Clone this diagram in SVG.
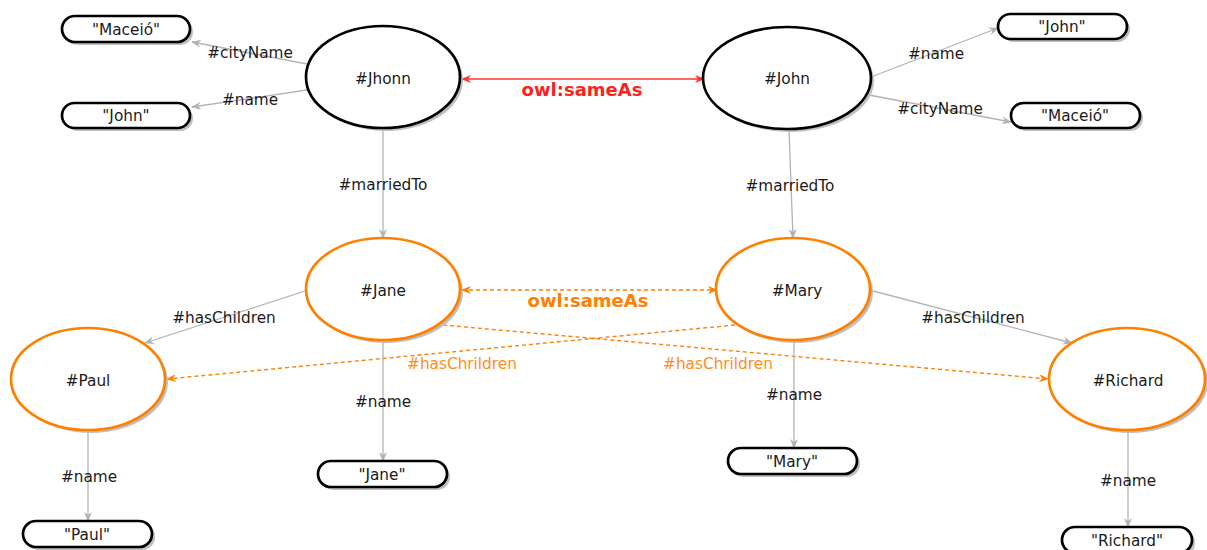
<svg xmlns="http://www.w3.org/2000/svg" width="1207" height="550" viewBox="0 0 1207 550">
  <style>
    text { font-family: "DejaVu Sans", Verdana, sans-serif; font-size: 15.3px; fill: #1a1a1a; text-anchor: middle; dominant-baseline: central; }
    .res { fill: #ffffff; stroke: #000000; stroke-width: 2.7; }
    .res-o { fill: #ffffff; stroke: #ff8000; stroke-width: 2.7; }
    .lit { fill: #ffffff; stroke: #000000; stroke-width: 2.7; }
    .shadow { fill: #bfbfbf; stroke: none; }
    .edge { fill: none; stroke: #b3b3b3; stroke-width: 1.3; }
    .same { fill: none; stroke: #ff3333; stroke-width: 1.4; }
    .dash { fill: none; stroke: #ff8000; stroke-width: 1.4; stroke-dasharray: 4 3; }
    .lbl-red { fill: #ff1f1f; font-weight: bold; font-size: 18px; }
    .lbl-org { fill: #ff8000; font-weight: bold; font-size: 18px; }
    .lbl-org-n { fill: #ff8c1a; }
  </style>
  <defs>
    <marker id="ag" markerWidth="10" markerHeight="10" refX="9" refY="5" orient="auto" markerUnits="userSpaceOnUse">
      <path d="M0,1 L10,5 L0,9 L3,5 z" fill="#b3b3b3"/>
    </marker>
    <marker id="ar" markerWidth="10" markerHeight="10" refX="9" refY="5" orient="auto-start-reverse" markerUnits="userSpaceOnUse">
      <path d="M0,1 L10,5 L0,9 L3,5 z" fill="#ff3333"/>
    </marker>
    <marker id="ao" markerWidth="10" markerHeight="10" refX="9" refY="5" orient="auto-start-reverse" markerUnits="userSpaceOnUse">
      <path d="M0,1 L10,5 L0,9 L3,5 z" fill="#ff8000"/>
    </marker>
  </defs>

  <!-- connectors -->
  <g id="connectors">
    <line class="edge" x1="307" y1="64" x2="192" y2="42" marker-end="url(#ag)"/>
    <text x="250" y="53">#cityName</text>
    <line class="edge" x1="307" y1="90" x2="192" y2="107" marker-end="url(#ag)"/>
    <text x="250" y="100">#name</text>

    <line class="edge" x1="871" y1="77" x2="998" y2="28" marker-end="url(#ag)"/>
    <text x="936" y="54">#name</text>
    <line class="edge" x1="869" y1="95" x2="1011" y2="122" marker-end="url(#ag)"/>
    <text x="940" y="109">#cityName</text>

    <line class="same" x1="462" y1="79" x2="704" y2="79" marker-start="url(#ar)" marker-end="url(#ar)"/>
    <text class="lbl-red" x="582" y="89">owl:sameAs</text>

    <line class="edge" x1="383" y1="129" x2="383" y2="238" marker-end="url(#ag)"/>
    <text x="383" y="185">#marriedTo</text>
    <line class="edge" x1="789" y1="130" x2="793" y2="238" marker-end="url(#ag)"/>
    <text x="790" y="186">#marriedTo</text>

    <line class="dash" x1="462" y1="290" x2="717" y2="290" marker-start="url(#ao)" marker-end="url(#ao)"/>
    <text class="lbl-org" x="588" y="300">owl:sameAs</text>

    <line class="edge" x1="305" y1="291" x2="145" y2="343" marker-end="url(#ag)"/>
    <text x="224" y="318">#hasChildren</text>
    <line class="edge" x1="873" y1="291" x2="1072" y2="343" marker-end="url(#ag)"/>
    <text x="973" y="318">#hasChildren</text>

    <line class="dash" x1="443" y1="325" x2="1048" y2="379" marker-end="url(#ao)"/>
    <line class="dash" x1="735" y1="325" x2="167" y2="379" marker-end="url(#ao)"/>
    <text class="lbl-org-n" x="462" y="364">#hasChrildren</text>
    <text class="lbl-org-n" x="718" y="364">#hasChrildren</text>

    <line class="edge" x1="383" y1="341" x2="383" y2="461" marker-end="url(#ag)"/>
    <text x="383" y="402">#name</text>
    <line class="edge" x1="794" y1="341" x2="794" y2="448" marker-end="url(#ag)"/>
    <text x="794" y="395">#name</text>
    <line class="edge" x1="88" y1="431" x2="88" y2="521" marker-end="url(#ag)"/>
    <text x="89" y="477">#name</text>
    <line class="edge" x1="1128" y1="431" x2="1128" y2="527" marker-end="url(#ag)"/>
    <text x="1128" y="481">#name</text>
  </g>

  <!-- resource nodes -->
  <g id="jhonn">
    <ellipse class="shadow" cx="386" cy="80" rx="77" ry="51"/>
    <ellipse class="res" cx="383" cy="77" rx="77" ry="51"/>
    <text x="383" y="79">#Jhonn</text>
  </g>
  <g id="john">
    <ellipse class="shadow" cx="790" cy="81" rx="84" ry="51"/>
    <ellipse class="res" cx="787" cy="78" rx="84" ry="51"/>
    <text x="787" y="79">#John</text>
  </g>
  <g id="jane">
    <ellipse class="shadow" cx="386" cy="292" rx="77" ry="51"/>
    <ellipse class="res-o" cx="383" cy="289" rx="77" ry="51"/>
    <text x="383" y="291">#Jane</text>
  </g>
  <g id="mary">
    <ellipse class="shadow" cx="796" cy="292" rx="77" ry="51"/>
    <ellipse class="res-o" cx="793" cy="289" rx="77" ry="51"/>
    <text x="797" y="291">#Mary</text>
  </g>
  <g id="paul">
    <ellipse class="shadow" cx="91" cy="382" rx="77" ry="51"/>
    <ellipse class="res-o" cx="88" cy="379" rx="77" ry="51"/>
    <text x="88" y="381">#Paul</text>
  </g>
  <g id="richard">
    <ellipse class="shadow" cx="1130" cy="382" rx="78" ry="51"/>
    <ellipse class="res-o" cx="1127" cy="379" rx="78" ry="51"/>
    <text x="1128" y="381">#Richard</text>
  </g>

  <!-- literal nodes -->
  <g id="lit-maceio-1">
    <rect class="shadow" x="65" y="19" width="128" height="26" rx="13"/>
    <rect class="lit" x="62" y="16" width="128" height="26" rx="13"/>
    <text x="126" y="30">"Maceió"</text>
  </g>
  <g id="lit-john-1">
    <rect class="shadow" x="65" y="106" width="128" height="25" rx="12.5"/>
    <rect class="lit" x="62" y="103" width="128" height="25" rx="12.5"/>
    <text x="126" y="116">"John"</text>
  </g>
  <g id="lit-john-2">
    <rect class="shadow" x="1001" y="17" width="129" height="25" rx="12.5"/>
    <rect class="lit" x="998" y="14" width="129" height="25" rx="12.5"/>
    <text x="1062" y="27">"John"</text>
  </g>
  <g id="lit-maceio-2">
    <rect class="shadow" x="1014" y="106" width="129" height="25" rx="12.5"/>
    <rect class="lit" x="1011" y="103" width="129" height="25" rx="12.5"/>
    <text x="1075" y="116">"Maceió"</text>
  </g>
  <g id="lit-jane">
    <rect class="shadow" x="321" y="464" width="129" height="26" rx="13"/>
    <rect class="lit" x="318" y="461" width="129" height="26" rx="13"/>
    <text x="382" y="475">"Jane"</text>
  </g>
  <g id="lit-mary">
    <rect class="shadow" x="731" y="451" width="129" height="26" rx="13"/>
    <rect class="lit" x="728" y="448" width="129" height="26" rx="13"/>
    <text x="792" y="462">"Mary"</text>
  </g>
  <g id="lit-paul">
    <rect class="shadow" x="26" y="524" width="129" height="26" rx="13"/>
    <rect class="lit" x="23" y="521" width="129" height="26" rx="13"/>
    <text x="87" y="535">"Paul"</text>
  </g>
  <g id="lit-richard">
    <rect class="shadow" x="1065" y="530" width="130" height="26" rx="13"/>
    <rect class="lit" x="1062" y="527" width="130" height="26" rx="13"/>
    <text x="1127" y="541">"Richard"</text>
  </g>
</svg>
